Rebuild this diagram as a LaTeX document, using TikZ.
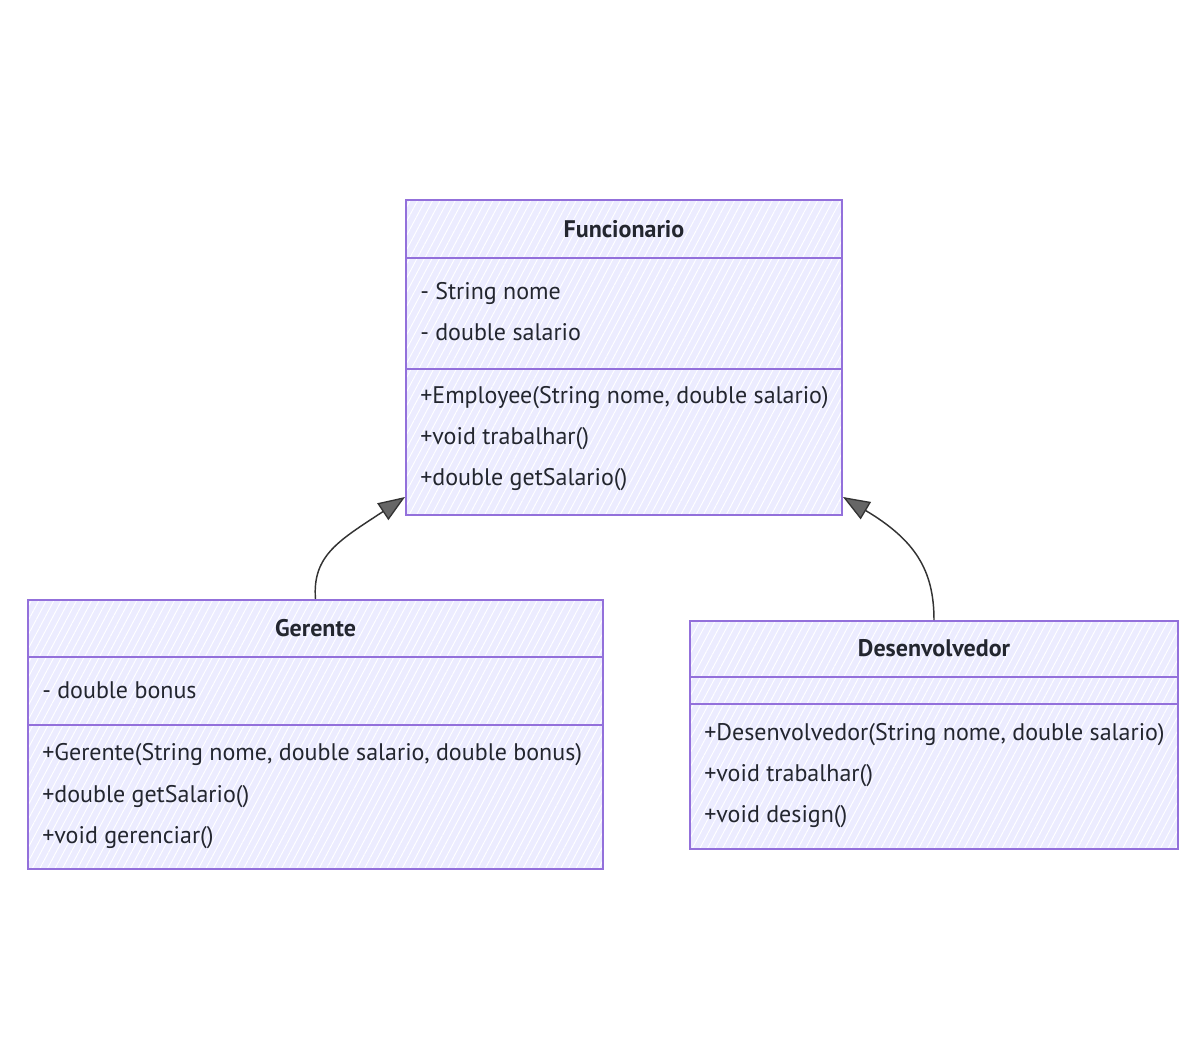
\documentclass[tikz,border=0pt]{standalone}
\usepackage{fontspec}
\setmainfont{PT Sans}
\usetikzlibrary{arrows.meta,patterns.meta}

\definecolor{classline}{HTML}{9370DB}
\definecolor{classfill}{HTML}{ECECFF}
\definecolor{classtext}{HTML}{23262F}
\definecolor{edgecol}{HTML}{333333}

\tikzset{
    classbox/.style={draw=classline, line width=1.5pt, preaction={fill=classfill},
        pattern={Lines[angle=62, distance=5pt, line width=0.7pt]}, pattern color=white,
        inner sep=0pt},
    sepline/.style={draw=classline, line width=1.1pt},
    classtitle/.style={anchor=base, font=\fontsize{18}{20}\selectfont\bfseries, text=classtext},
    member/.style={anchor=base west, inner sep=0pt, font=\fontsize{18}{20}\selectfont, text=classtext},
    inherit/.style={draw=edgecol, line width=1.1pt,
        -{Triangle[length=20pt, width=15pt, fill=black!60, line width=1pt]}}
}

\begin{document}
\begin{tikzpicture}[x=0.75pt, y=-0.75pt]
        % Setup the canvas
        \useasboundingbox (0,0) rectangle (1192,1057);

        % Funcionario
        \node[classbox, minimum width=327pt, minimum height=236.25pt] (func) at (624,357.5) {};
        \draw[sepline] (406,258) -- (842,258);
        \draw[sepline] (406,369) -- (842,369);
        \node[classtitle] (funcT) at (624,237) {Funcionario};
        \node[member] (funcA1) at (420,299) {- String nome};
        \node[member] (funcA2) at (420,340) {- double salario};
        \node[member] (funcM1) at (420,403) {+Employee(String nome, double salario)};
        \node[member] (funcM2) at (420,444) {+void trabalhar()};
        \node[member] (funcM3) at (420,485) {+double getSalario()};

        % Gerente
        \node[classbox, minimum width=431.25pt, minimum height=201.75pt] (ger) at (315.5,734.5) {};
        \draw[sepline] (28,657) -- (603,657);
        \draw[sepline] (28,725) -- (603,725);
        \node[classtitle] (gerT) at (315.5,636) {Gerente};
        \node[member] (gerA1) at (42,698) {- double bonus};
        \node[member] (gerM1) at (42,760) {+Gerente(String nome, double salario, double bonus)};
        \node[member] (gerM2) at (42,802) {+double getSalario()};
        \node[member] (gerM3) at (42,843) {+void gerenciar()};

        % Desenvolvedor
        \node[classbox, minimum width=366pt, minimum height=171pt] (dev) at (934,735) {};
        \draw[sepline] (690,677) -- (1178,677);
        \draw[sepline] (690,704) -- (1178,704);
        \node[classtitle] (devT) at (934,656) {Desenvolvedor};
        \node[member] (devM1) at (704,740) {+Desenvolvedor(String nome, double salario)};
        \node[member] (devM2) at (704,781) {+void trabalhar()};
        \node[member] (devM3) at (704,822) {+void design()};

        % Inheritance
        \coordinate (tipGer) at (405,497);
        \coordinate (tipDev) at (843,497);
        \draw[inherit] (ger.north) .. controls (312,555) and (340,540) .. (tipGer);
        \draw[inherit] (dev.north) .. controls (934,570) and (915,540) .. (tipDev);

    \end{tikzpicture}
\end{document}
